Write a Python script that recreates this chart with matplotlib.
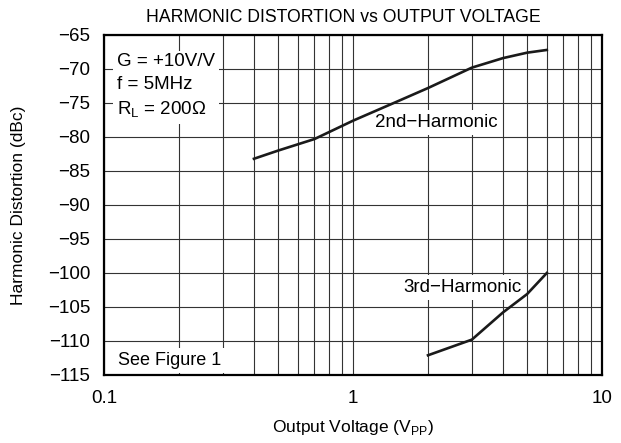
import matplotlib
matplotlib.use("Agg")
import matplotlib.pyplot as plt
from matplotlib.ticker import FixedLocator, LogLocator, NullFormatter

plt.rcParams['font.family'] = ['Liberation Sans', 'DejaVu Sans']
plt.rcParams['font.size'] = 12.5

# 2nd harmonic
h2_v = [0.4, 0.5, 0.7, 1.0, 1.5, 2.0, 3.0, 4.0, 5.0, 6.0]
h2_db = [-83.2, -82.0, -80.3, -77.6, -74.8, -72.8, -69.8, -68.4, -67.6, -67.2]
# 3rd harmonic
h3_v = [2.0, 3.0, 4.0, 5.0, 6.0]
h3_db = [-112.1, -109.8, -105.8, -103.1, -100.0]

yticks = list(range(-65, -116, -5))

fig = plt.figure(figsize=(6.21, 4.43), dpi=100)
ax = fig.add_axes([0.1675, 0.1535, 0.802, 0.7675])

ax.plot(h2_v, h2_db, color='#1a1a1a', lw=1.9, zorder=6)
ax.plot(h3_v, h3_db, color='#1a1a1a', lw=1.9, zorder=6)

ax.set_xscale('log')
ax.set_xlim(0.1, 10)
ax.set_ylim(-115, -65)
ax.xaxis.set_major_locator(FixedLocator([0.1, 1, 10]))
ax.set_xticklabels(['0.1', '1', '10'])
ax.xaxis.set_minor_locator(LogLocator(base=10, subs=range(2, 10)))
ax.xaxis.set_minor_formatter(NullFormatter())
ax.set_yticks(yticks)
ax.set_yticklabels(['\u2212%d' % -t for t in yticks])
ax.tick_params(which='both', length=0, labelsize=13.5)
ax.tick_params(axis='x', pad=11)
ax.tick_params(axis='y', pad=10)
ax.grid(True, which='both', color='#333333', lw=0.8)
for s in ax.spines.values():
    s.set_linewidth(1.6)
    s.set_zorder(5)

ax.set_xlabel('Output Voltage (V$_{\\mathregular{PP}}$)', labelpad=8)
ax.set_ylabel('Harmonic Distortion (dBc)', labelpad=16)
ax.set_title('HARMONIC DISTORTION vs OUTPUT VOLTAGE', fontsize=12.7, pad=9, x=0.48)

box = dict(facecolor='white', edgecolor='none', pad=3)
ax.text(0.113, -67.7, 'G = +10V/V\nf = 5MHz\nR$_{\\mathregular{L}}$ = 200\u03a9',
        ha='left', va='top', linespacing=1.45, fontsize=13.5, bbox=box, zorder=4)
ax.text(0.114, -112.9, 'See Figure 1', ha='left', va='center', fontsize=13, bbox=box, zorder=4)
ax.text(1.226, -77.9, '2nd\u2212Harmonic', ha='left', va='center', fontsize=13.5, bbox=box, zorder=4)
ax.text(1.59, -102.1, '3rd\u2212Harmonic', ha='left', va='center', fontsize=13.5, bbox=box, zorder=4)

fig.savefig('out.png', dpi=100)
